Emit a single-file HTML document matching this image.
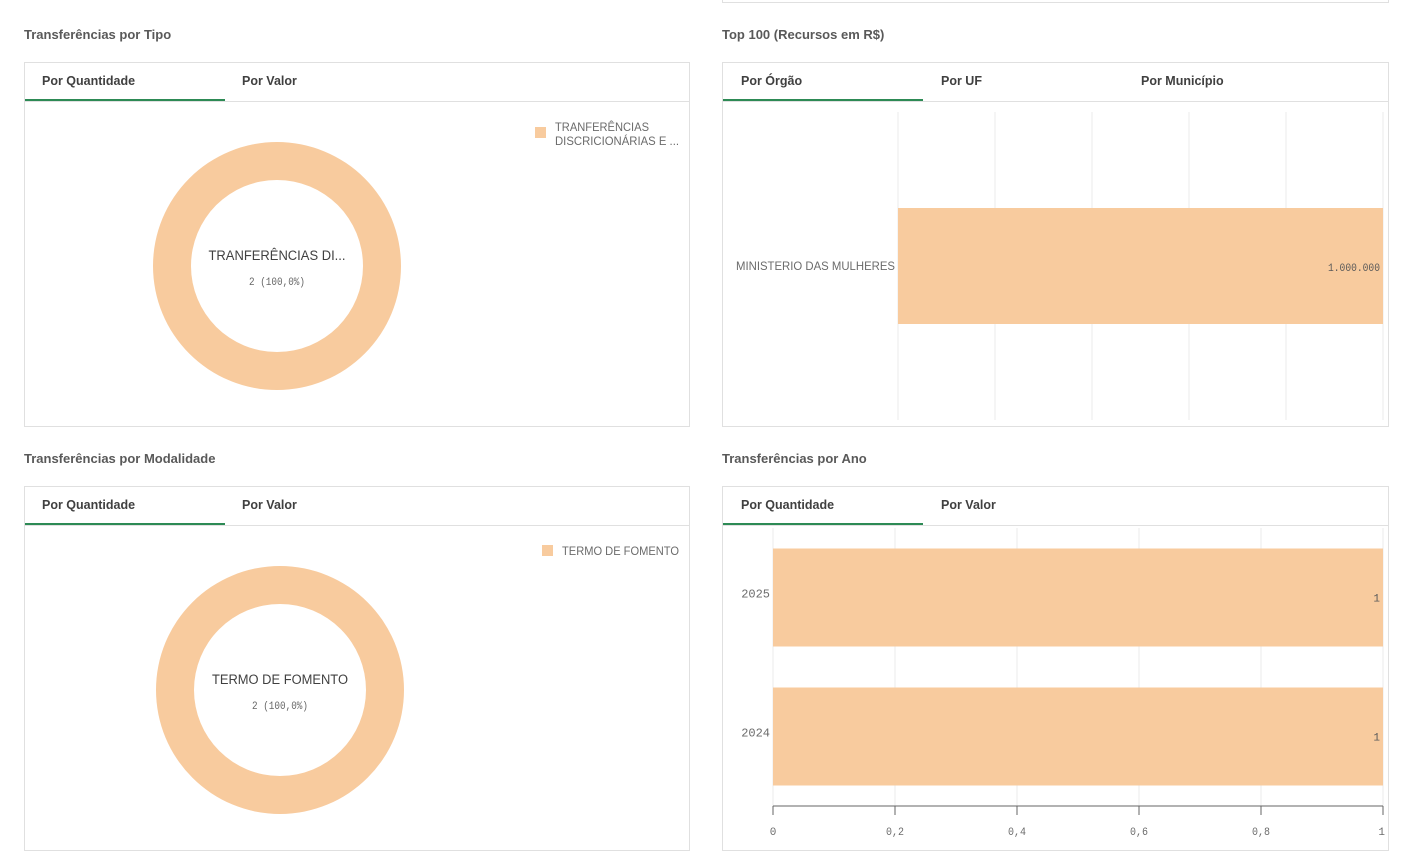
<!DOCTYPE html>
<html><head><meta charset="utf-8">
<style>
body{margin:0;width:1418px;height:865px;background:#fff;position:relative;overflow:hidden;font-family:"Liberation Sans",sans-serif;}
.title{position:absolute;font-size:13px;font-weight:bold;color:#595959;}
.panel{position:absolute;border:1px solid #e0e0e0;background:#fff;box-sizing:border-box;}
.tabs{position:absolute;left:0;right:0;top:0;height:38px;border-bottom:1px solid #e0e0e0;}
.tab{position:absolute;top:11px;font-size:12.5px;font-weight:bold;color:#404040;}
.ul{position:absolute;top:36px;height:2px;background:#2d8a55;}
svg{position:absolute;left:0;top:0;}
</style></head><body>
<div class="panel" style="left:722px;top:-10px;width:667px;height:13px;"></div>

<div class="title" style="left:24px;top:27px;">Transferências por Tipo</div>
<div class="panel" style="left:24px;top:62px;width:666px;height:365px;">
 <div class="tabs"><span class="tab" style="left:17px">Por Quantidade</span><span class="tab" style="left:217px">Por Valor</span><div class="ul" style="left:0;width:200px"></div></div>
</div>

<div class="title" style="left:722px;top:27px;">Top 100 (Recursos em R$)</div>
<div class="panel" style="left:722px;top:62px;width:667px;height:365px;">
 <div class="tabs"><span class="tab" style="left:18px">Por Órgão</span><span class="tab" style="left:218px">Por UF</span><span class="tab" style="left:418px">Por Município</span><div class="ul" style="left:0;width:200px"></div></div>
</div>

<div class="title" style="left:24px;top:451px;">Transferências por Modalidade</div>
<div class="panel" style="left:24px;top:486px;width:666px;height:365px;">
 <div class="tabs"><span class="tab" style="left:17px">Por Quantidade</span><span class="tab" style="left:217px">Por Valor</span><div class="ul" style="left:0;width:200px"></div></div>
</div>

<div class="title" style="left:722px;top:451px;">Transferências por Ano</div>
<div class="panel" style="left:722px;top:486px;width:667px;height:365px;">
 <div class="tabs"><span class="tab" style="left:18px">Por Quantidade</span><span class="tab" style="left:218px">Por Valor</span><div class="ul" style="left:0;width:200px"></div></div>
</div>

<svg id="s" width="1418" height="865"></svg>
<script>
const tipoCats=["TRANFERÊNCIAS DISCRICIONÁRIAS E ..."];
const tipoVals=[2];
const modCats=["TERMO DE FOMENTO"];
const modVals=[2];
const orgaoCats=["MINISTERIO DAS MULHERES"];
const orgaoVals=[1000000];
const orgaoValLabels=["1.000.000"];
const anoCats=["2025","2024"];
const anoVals=[1,1];
const anoTicks=[0,0.2,0.4,0.6,0.8,1];
const anoTickLabels=["0","0,2","0,4","0,6","0,8","1"];

const NS="http://www.w3.org/2000/svg",S=document.getElementById('s');
const FILL="#f8cb9e";
function mk(t,a,txt){const e=document.createElementNS(NS,t);for(const k in a)e.setAttribute(k,a[k]);if(txt!=null)e.textContent=txt;S.appendChild(e);return e;}

function donut(cx,cy,cats,vals,centerLabel,clW,legX,legY,legLines,legW){
  const tot=vals.reduce((a,b)=>a+b,0);const R=124,r=86;let a0=-Math.PI/2;
  vals.forEach((v,i)=>{
    const frac=v/tot;
    let el;
    if(frac>=0.9999){
      el=mk('path',{d:`M${cx-R},${cy}a${R},${R} 0 1,0 ${2*R},0a${R},${R} 0 1,0 ${-2*R},0ZM${cx-r},${cy}a${r},${r} 0 1,1 ${2*r},0a${r},${r} 0 1,1 ${-2*r},0Z`,fill:FILL,'fill-rule':'evenodd'});
    }else{
      const a1=a0+frac*2*Math.PI,lg=frac>0.5?1:0;
      el=mk('path',{d:`M${cx+R*Math.cos(a0)},${cy+R*Math.sin(a0)}A${R},${R} 0 ${lg},1 ${cx+R*Math.cos(a1)},${cy+R*Math.sin(a1)}L${cx+r*Math.cos(a1)},${cy+r*Math.sin(a1)}A${r},${r} 0 ${lg},0 ${cx+r*Math.cos(a0)},${cy+r*Math.sin(a0)}Z`,fill:FILL});
      a0=a1;
    }
    
    
    const pct=(v/tot*100).toFixed(1).replace('.',',');
    const t1=mk('text',{x:cx-clW/2,y:cy-6,'font-size':'13.5','fill':'#404040','font-family':'Liberation Sans',textLength:clW,lengthAdjust:'spacingAndGlyphs'},centerLabel);
    
    
    const t2=mk('text',{x:cx-28,y:cy+19,'font-size':'11','fill':'#666','font-family':'Liberation Mono',textLength:56,lengthAdjust:'spacingAndGlyphs'},v+" ("+pct+"%)");
    
    
    const sw=mk('rect',{x:legX,y:legY,width:11,height:11,fill:FILL});
    
    
    legLines.forEach((ln,j)=>{const lt=mk('text',{x:legX+20,y:legY+(legLines.length>1?4:10)+j*14,'font-size':'12','fill':'#6b6b6b','font-family':'Liberation Sans',textLength:legW[j],lengthAdjust:'spacingAndGlyphs'},ln);
      
      });
  });
}
donut(277,266,tipoCats,tipoVals,"TRANFERÊNCIAS DI...",137,535,127,["TRANFERÊNCIAS","DISCRICIONÁRIAS E ..."],[94,124]);
donut(280,690,modCats,modVals,"TERMO DE FOMENTO",136,542,545,["TERMO DE FOMENTO"],[117]);

// Top 100 bar chart
(function(){
  const x0=898,x1=1383,max=1000000,sx=v=>x0+(v/max)*(x1-x0);
  for(let i=0;i<=5;i++){const g=mk('line',{x1:x0+i*(x1-x0)/5,x2:x0+i*(x1-x0)/5,y1:112,y2:420,stroke:'#ebebeb'});
    }
  const top=112,h=308,band=h/orgaoCats.length;
  orgaoCats.forEach((c,i)=>{
    const yc=top+band*(i+0.5),bh=116;
    const b=mk('rect',{x:x0,y:yc-bh/2,width:sx(orgaoVals[i])-x0,height:bh,fill:FILL});
    
    const l=mk('text',{x:736,y:yc+4,'font-size':'12','fill':'#6b6b6b',textLength:159,lengthAdjust:'spacingAndGlyphs'},c);
    
    const v=mk('text',{x:sx(orgaoVals[i])-55,y:yc+5,'font-size':'11','fill':'#595959','font-family':'Liberation Mono',textLength:52,lengthAdjust:'spacingAndGlyphs'},orgaoValLabels[i]);
    
  });
})();

// Ano bar chart
(function(){
  const x0=773,x1=1383,max=1,sx=v=>x0+(v/max)*(x1-x0);
  anoTicks.forEach((t,i)=>{
    const g=mk('line',{x1:sx(t),x2:sx(t),y1:528,y2:806,stroke:'#ebebeb'});
    
    const tk=mk('line',{x1:sx(t),x2:sx(t),y1:806,y2:815,stroke:'#666'});
    
    const tl=mk('text',{x:sx(t),y:835,'text-anchor':i==anoTicks.length-1?'end':'middle','font-size':'11','fill':'#6b6b6b','font-family':'Liberation Mono',...(anoTickLabels[i].length>1?{textLength:18,lengthAdjust:'spacingAndGlyphs'}:{})},anoTickLabels[i]);
    if(i==anoTicks.length-1)tl.setAttribute('x',sx(t)+2);
    
  });
  const ax=mk('line',{x1:x0,x2:x1,y1:806,y2:806,stroke:'#666'});
  
  const top=528,h=278,band=h/anoCats.length;
  anoCats.forEach((c,i)=>{
    const yc=top+band*(i+0.5),bh=98;
    const b=mk('rect',{x:x0,y:yc-bh/2,width:sx(anoVals[i])-x0,height:bh,fill:FILL});
    
    const l=mk('text',{x:x0-3,y:yc,'text-anchor':'end','font-size':'12','fill':'#6b6b6b','font-family':'Liberation Mono'},c);
    
    const v=mk('text',{x:sx(anoVals[i])-3,y:yc+4,'text-anchor':'end','font-size':'11','fill':'#595959','font-family':'Liberation Mono'},String(anoVals[i]));
    
  });
})();
</script>
</body></html>
